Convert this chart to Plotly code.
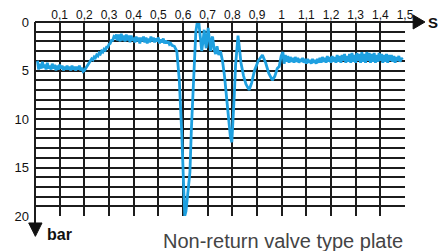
import plotly.graph_objects as go

# ---- data ----
time_s = [
    0.010, 0.015, 0.020, 0.025, 0.030, 0.035, 0.040, 0.045, 0.050, 0.055,
    0.060, 0.065, 0.070, 0.075, 0.080, 0.085, 0.090, 0.095, 0.100, 0.105,
    0.110, 0.115, 0.120, 0.125, 0.130, 0.135, 0.140, 0.145, 0.150, 0.155,
    0.160, 0.165, 0.170, 0.175, 0.180, 0.185, 0.190, 0.195, 0.200,
    0.205, 0.210, 0.215, 0.220, 0.225, 0.230, 0.235, 0.240, 0.245, 0.250,
    0.255, 0.260, 0.265, 0.270, 0.275, 0.280, 0.285, 0.290, 0.295, 0.300,
    0.305, 0.310, 0.315, 0.320, 0.325, 0.330,
    0.335, 0.340, 0.345, 0.350, 0.355, 0.360, 0.365, 0.370, 0.375, 0.380,
    0.385, 0.390, 0.395, 0.400, 0.405, 0.410, 0.415, 0.420, 0.425, 0.430,
    0.435, 0.440, 0.445, 0.450, 0.455, 0.460, 0.465, 0.470, 0.475, 0.480,
    0.485, 0.490, 0.495, 0.500, 0.505, 0.510, 0.515, 0.520, 0.525, 0.530,
    0.535, 0.540, 0.545, 0.550, 0.555, 0.565, 0.575,
    0.585, 0.595, 0.602, 0.607, 0.612, 0.620, 0.628, 0.634, 0.640, 0.646,
    0.652, 0.658, 0.664, 0.670, 0.676, 0.681, 0.686, 0.690, 0.694, 0.698,
    0.702, 0.707, 0.712, 0.716, 0.720, 0.726, 0.732, 0.738, 0.745, 0.752,
    0.760, 0.768, 0.776, 0.784, 0.792, 0.798, 0.803, 0.808, 0.813, 0.818,
    0.823, 0.828, 0.835, 0.845, 0.855, 0.868, 0.878, 0.890, 0.905, 0.922,
    0.935, 0.948, 0.962, 0.972, 0.982, 0.990, 0.998, 1.005,
    1.010, 1.015, 1.020, 1.025, 1.030, 1.035, 1.040, 1.045, 1.050, 1.055,
    1.060, 1.065, 1.070, 1.075, 1.080, 1.085, 1.090, 1.095, 1.100, 1.105,
    1.110, 1.115, 1.120, 1.125, 1.130, 1.135, 1.140, 1.145, 1.150, 1.155,
    1.160, 1.165, 1.170, 1.175, 1.180, 1.185, 1.190, 1.195, 1.200, 1.205,
    1.210, 1.215, 1.220, 1.225, 1.230, 1.235, 1.240, 1.245, 1.250, 1.255,
    1.260, 1.265, 1.270, 1.275, 1.280, 1.285, 1.290, 1.295, 1.300, 1.305,
    1.310, 1.315, 1.320, 1.325, 1.330, 1.335, 1.340, 1.345, 1.350, 1.355,
    1.360, 1.365, 1.370, 1.375, 1.380, 1.385, 1.390, 1.395, 1.400, 1.405,
    1.410, 1.415, 1.420, 1.425, 1.430, 1.435, 1.440, 1.445, 1.450, 1.455,
    1.460, 1.465, 1.470, 1.475, 1.480, 1.485, 1.490,
]
pressure_bar = [
    4.0, 4.9, 4.3, 4.8, 4.1, 4.7, 4.4, 4.9, 4.2, 4.8,
    4.5, 4.9, 4.3, 4.8, 4.4, 5.0, 4.5, 4.9, 4.4, 4.8,
    4.5, 5.0, 4.6, 4.9, 4.5, 4.9, 4.6, 5.0, 4.5, 4.9,
    4.6, 5.0, 4.6, 4.9, 4.5, 5.0, 4.7, 5.1, 5.0,
    4.8, 4.5, 4.4, 4.1, 4.0, 3.8, 3.9, 3.6, 3.7, 3.4,
    3.5, 3.2, 3.3, 3.0, 3.1, 2.8, 2.9, 2.6, 2.6, 2.3,
    2.2, 1.9, 1.9, 1.5, 1.6, 1.3,
    1.9, 1.3, 2.0, 1.2, 1.9, 1.4, 2.0, 1.3, 1.9, 1.4,
    2.1, 1.4, 1.9, 1.6, 2.1, 1.5, 2.0, 1.6, 2.2, 1.6,
    2.0, 1.5, 2.1, 1.6, 2.2, 1.7, 2.1, 1.5, 2.0, 1.6,
    2.1, 1.7, 2.0, 1.6, 2.2, 1.8, 2.1, 1.7, 2.2, 1.9,
    2.2, 2.0, 2.3, 2.2, 2.4, 2.5, 3.0,
    6.0, 11.5, 17.0, 20.0, 19.5, 17.5, 15.5, 11.0, 7.0, 3.5,
    1.0, 0.0, 0.0, 1.5, 3.0, 2.0, 0.8, 2.0, 2.7, 1.5,
    0.6, 1.8, 3.0, 1.8, 1.5, 2.8, 3.3, 2.5, 3.4, 3.0,
    4.0, 5.5, 7.5, 9.8, 11.8, 12.4, 10.5, 7.5, 4.5, 2.3,
    1.4, 2.5, 4.2, 5.5, 6.4, 7.0, 6.3, 5.0, 4.0, 3.4,
    4.2, 5.3, 6.0, 5.6, 4.8, 4.6, 3.5, 3.1,
    4.3, 3.4, 4.1, 3.5, 4.2, 3.6, 4.1, 3.7, 4.2, 3.6,
    4.1, 3.7, 4.2, 3.8, 4.1, 3.7, 4.2, 3.8, 4.3, 3.8,
    4.2, 3.9, 4.3, 3.8, 4.2, 3.9, 4.3, 3.8, 4.2, 3.7,
    4.2, 3.6, 4.1, 3.7, 4.2, 3.5, 4.1, 3.6, 4.2, 3.5,
    4.1, 3.6, 4.2, 3.4, 4.1, 3.5, 4.2, 3.4, 4.0, 3.3,
    4.2, 3.5, 4.1, 3.3, 4.2, 3.2, 4.1, 3.4, 4.2, 3.2,
    4.0, 3.3, 4.2, 3.1, 4.1, 3.3, 4.2, 3.1, 4.0, 3.2,
    4.2, 3.3, 4.1, 3.2, 4.2, 3.4, 4.1, 3.2, 4.0, 3.3,
    4.2, 3.4, 4.1, 3.3, 4.2, 3.4, 4.0, 3.4, 4.1, 3.5,
    4.2, 3.6, 4.0, 3.5, 4.1, 3.7, 3.9,
]

x_tick_vals = [0.1, 0.2, 0.3, 0.4, 0.5, 0.6, 0.7, 0.8, 0.9, 1.0,
               1.1, 1.2, 1.3, 1.4, 1.5]
x_tick_text = ["0,1", "0,2", "0,3", "0,4", "0,5", "0,6", "0,7", "0,8",
               "0,9", "1", "1,1", "1,2", "1,3", "1,4", "1,5"]
y_tick_vals = [0, 5, 10, 15, 20]
y_tick_text = ["0", "5", "10", "15", "20"]

x_unit = "S"
y_unit = "bar"
caption = "Non-return valve type plate"

GRID = "#1c1c1c"
BLUE = "#1ea0e0"

fig = go.Figure()
fig.add_trace(go.Scatter(
    x=time_s, y=pressure_bar, mode="lines",
    line=dict(color=BLUE, width=2.8), showlegend=False, hoverinfo="skip",
))

fig.update_layout(
    width=440, height=251,
    margin=dict(l=35, r=35, t=22, b=35, autoexpand=False),
    paper_bgcolor="white", plot_bgcolor="white",
    xaxis=dict(
        side="top", range=[0, 1.5], tickvals=x_tick_vals, ticktext=x_tick_text,
        showgrid=True, gridcolor=GRID, gridwidth=1.5, zeroline=False,
        showline=False, ticks="", ticklabelstandoff=0, automargin=False,
        tickfont=dict(family="Liberation Sans", size=12, color="#111"),
    ),
    yaxis=dict(
        range=[20, 0], tickvals=y_tick_vals, ticktext=y_tick_text,
        showgrid=True, gridcolor=GRID, gridwidth=1.5, zeroline=False,
        showline=False, ticks="", ticklabelstandoff=5, automargin=False,
        minor=dict(tick0=0, dtick=1, showgrid=True, gridcolor=GRID, gridwidth=1.5),
        tickfont=dict(family="Liberation Sans", size=13, color="#111"),
    ),
)

# frame lines with extensions and arrow heads
fig.add_shape(type="line", xref="paper", yref="paper", x0=0, x1=1.03, y0=1, y1=1,
              line=dict(color=GRID, width=2))
fig.add_shape(type="line", xref="paper", yref="paper", x0=0, x1=0, y0=1, y1=-0.04,
              line=dict(color=GRID, width=2))
fig.add_shape(type="path", xref="paper", yref="paper",
              path="M 1.022 1.036 L 1.054 1.0 L 1.022 0.964 Z",
              fillcolor="#111", line=dict(color="#111", width=1))
fig.add_shape(type="path", xref="paper", yref="paper",
              path="M -0.017 -0.036 L 0.019 -0.036 L 0.001 -0.105 Z",
              fillcolor="#111", line=dict(color="#111", width=1))

fig.add_annotation(xref="paper", yref="paper", x=1.056, y=1.0, text=x_unit,
                   showarrow=False, xanchor="left", yanchor="middle",
                   font=dict(family="Liberation Sans", size=15, color="#111", weight="bold"))
fig.add_annotation(xref="paper", yref="paper", x=0.026, y=-0.095, text=y_unit,
                   showarrow=False, xanchor="left", yanchor="middle",
                   font=dict(family="Liberation Sans", size=16, color="#111", weight="bold"))
fig.add_annotation(xref="paper", yref="paper", x=1.0, y=-0.129, text=caption,
                   showarrow=False, xanchor="right", yanchor="middle",
                   font=dict(family="Liberation Sans", size=20, color="#444"))

fig.write_html("out.html", config={"displayModeBar": False},
               post_script="document.body.style.margin='0';")
